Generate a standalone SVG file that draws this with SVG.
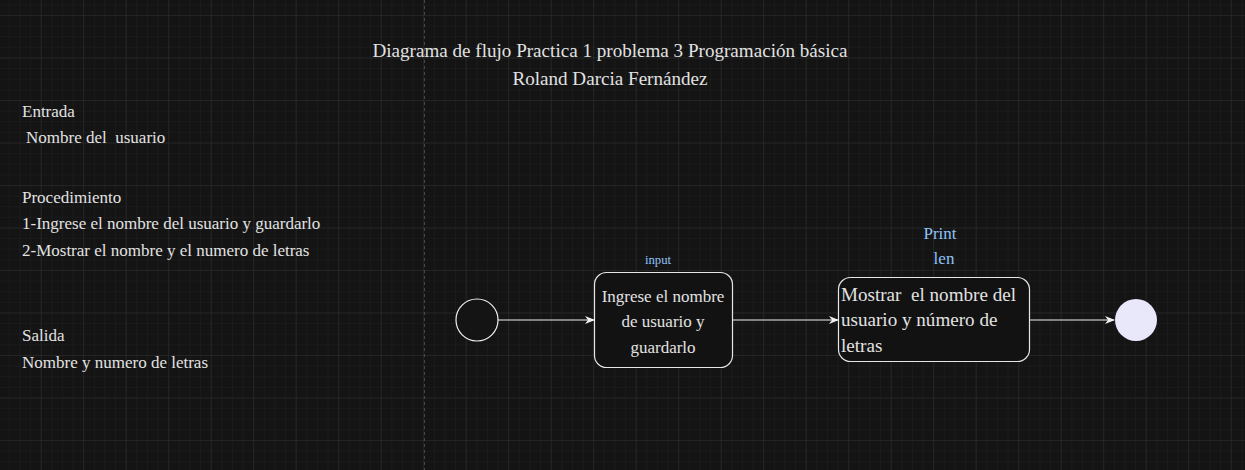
<svg xmlns="http://www.w3.org/2000/svg" width="1245" height="470" viewBox="0 0 1245 470">
<defs>
<pattern id="minor" x="40.7" y="15" width="10.625" height="10.625" patternUnits="userSpaceOnUse">
<path d="M0 0H10.625M0 0V10.625" fill="none" stroke="#202020" stroke-width="1"/>
</pattern>
<pattern id="major" x="40.7" y="15" width="42.5" height="42.5" patternUnits="userSpaceOnUse">
<path d="M0 0H42.5M0 0V42.5" fill="none" stroke="#2e2e2e" stroke-width="1"/>
</pattern>
<marker id="arrow" viewBox="0 0 10 10" refX="9" refY="5" markerWidth="10" markerHeight="10" markerUnits="userSpaceOnUse" orient="auto">
<path d="M0 1 L10 5 L0 9 L3 5 Z" fill="#f0f0f0"/>
</marker>
<style>
.t{font-family:"Liberation Serif","Times New Roman",serif;fill:#e2e2e2;}
.lbl{font-family:"Liberation Serif","Times New Roman",serif;fill:#8fc3f7;}
.box{fill:#121212;stroke:#e6e6e6;stroke-width:1.2;}
.conn{stroke:#f0f0f0;stroke-width:1.2;fill:none;marker-end:url(#arrow);}
</style>
</defs>
<rect width="1245" height="470" fill="#141414"/>
<rect width="1245" height="470" fill="url(#minor)"/>
<rect width="1245" height="470" fill="url(#major)"/>
<line x1="424.5" y1="0" x2="424.5" y2="470" stroke="#474747" stroke-width="1" stroke-dasharray="3 3"/>
<g id="title">
<text class="t" x="610" y="57" font-size="19.1" text-anchor="middle">Diagrama de flujo Practica 1 problema 3 Programación básica</text>
<text class="t" x="610" y="85" font-size="19.1" text-anchor="middle">Roland Darcia Fernández</text>
</g>
<g id="notes">
<text class="t" x="22" y="117" font-size="17">Entrada</text>
<text class="t" x="26" y="143" font-size="17" xml:space="preserve">Nombre del  usuario</text>
<text class="t" x="22" y="203" font-size="17">Procedimiento</text>
<text class="t" x="22" y="229" font-size="17">1-Ingrese el nombre del usuario y guardarlo</text>
<text class="t" x="22" y="256" font-size="17">2-Mostrar el nombre y el numero de letras</text>
<text class="t" x="22" y="341" font-size="17">Salida</text>
<text class="t" x="22" y="368" font-size="17">Nombre y numero de letras</text>
</g>
<g id="connectors">
<line class="conn" x1="498" y1="320" x2="594" y2="320"/>
<line class="conn" x1="732" y1="320" x2="838" y2="320"/>
<line class="conn" x1="1030" y1="320" x2="1114" y2="320"/>
</g>
<g id="start">
<circle cx="477" cy="320" r="21" fill="#141414" stroke="#f0f0f0" stroke-width="1.2"/>
</g>
<g id="input-node">
<rect class="box" x="594.5" y="272.5" width="138" height="95" rx="12"/>
<text class="t" x="663" y="302" font-size="17" text-anchor="middle">Ingrese el nombre</text>
<text class="t" x="663" y="327" font-size="17" text-anchor="middle">de usuario y</text>
<text class="t" x="663" y="353" font-size="17" text-anchor="middle">guardarlo</text>
</g>
<g id="input-label">
<text class="lbl" x="658" y="264" font-size="12.75" text-anchor="middle">input</text>
</g>
<g id="output-node">
<rect class="box" x="838.5" y="277.5" width="191" height="84" rx="12"/>
<text class="t" x="841" y="301" font-size="19.1" xml:space="preserve">Mostrar  el nombre del</text>
<text class="t" x="841" y="326" font-size="19.1">usuario y número de</text>
<text class="t" x="841" y="352" font-size="19.1">letras</text>
</g>
<g id="print-label">
<text class="lbl" x="940" y="239" font-size="17" text-anchor="middle">Print</text>
<text class="lbl" x="944" y="264" font-size="17" text-anchor="middle">len</text>
</g>
<g id="end">
<circle cx="1136" cy="320" r="21" fill="#e8e8fa"/>
</g>
</svg>
